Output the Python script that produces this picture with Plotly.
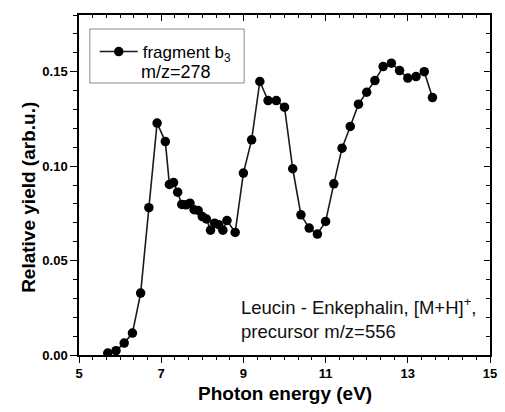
import plotly.graph_objects as go

energy = [5.7, 5.9, 6.1, 6.3, 6.5, 6.7, 6.9, 7.1, 7.2, 7.3, 7.4, 7.5, 7.6, 7.7, 7.8, 7.9,
          8.0, 8.1, 8.2, 8.3, 8.4, 8.5, 8.6, 8.8, 9.0, 9.2, 9.4, 9.6, 9.8, 10.0, 10.2,
          10.4, 10.6, 10.8, 11.0, 11.2, 11.4, 11.6, 11.8, 12.0, 12.2, 12.4, 12.6, 12.8,
          13.0, 13.2, 13.4, 13.6]
yield_b3 = [0.0010, 0.0023, 0.0063, 0.0116, 0.0328, 0.0780, 0.1228, 0.1130, 0.0903,
            0.0913, 0.0862, 0.0797, 0.0795, 0.0804, 0.0769, 0.0765, 0.0733, 0.0720,
            0.0661, 0.0698, 0.0690, 0.0661, 0.0712, 0.0649, 0.0963, 0.1139, 0.1448,
            0.1347, 0.1347, 0.1312, 0.0986, 0.0742, 0.0672, 0.0640, 0.0707, 0.0906,
            0.1095, 0.1210, 0.1328, 0.1391, 0.1453, 0.1527, 0.1545, 0.1506, 0.1466,
            0.1474, 0.1500, 0.1363]

x_ticks = [5, 7, 9, 11, 13, 15]
y_ticks = [0.00, 0.05, 0.10, 0.15]
y_tick_labels = ["0.00", "0.05", "0.10", "0.15"]

FONT = "Liberation Sans, Arial, sans-serif"

fig = go.Figure()
fig.add_trace(go.Scatter(
    x=energy, y=yield_b3, mode="lines+markers",
    name="fragment b<sub>3</sub>",
    line=dict(color="#1a1a1a", width=1.6),
    marker=dict(color="black", size=9.5, symbol="circle"),
))
# invisible trace to host the mirrored (inward-tick) axes
fig.add_trace(go.Scatter(
    x=energy, y=yield_b3, xaxis="x2", yaxis="y2", mode="markers",
    marker=dict(opacity=0), showlegend=False, hoverinfo="skip",
))

common = dict(showgrid=False, zeroline=False, showline=True, linecolor="black",
              linewidth=1.5, tickcolor="black", tickwidth=1.3)

fig.update_layout(
    width=505, height=412,
    margin=dict(l=79, r=8, t=15, b=57),
    paper_bgcolor="white", plot_bgcolor="white",
    font=dict(family=FONT, color="black"),
    xaxis=dict(range=[5, 15], tickvals=x_ticks, ticks="outside", ticklen=6,
               ticklabeloverflow="allow",
               tickfont=dict(size=13, weight="bold", family=FONT),
               minor=dict(dtick=1/3, tick0=5, ticks="outside", ticklen=3.5,
                          tickcolor="black", tickwidth=1.2),
               **common),
    yaxis=dict(range=[0, 0.18], tickvals=y_ticks, ticktext=y_tick_labels,
               ticks="outside", ticklen=7, ticklabeloverflow="allow",
               tickfont=dict(size=13, weight="bold", family=FONT),
               minor=dict(dtick=0.01, tick0=0, ticks="outside", ticklen=4,
                          tickcolor="black", tickwidth=1.2),
               **common),
    xaxis2=dict(range=[5, 15], overlaying="x", side="top", anchor="y",
                tickvals=x_ticks, ticks="inside", ticklen=6, showticklabels=False,
                minor=dict(dtick=1/3, tick0=5, ticks="inside", ticklen=3.5,
                           tickcolor="black", tickwidth=1.2),
                **common),
    yaxis2=dict(range=[0, 0.18], overlaying="y", side="right", anchor="x",
                tickvals=y_ticks, ticks="inside", ticklen=6, showticklabels=False,
                minor=dict(dtick=0.01, tick0=0, ticks="inside", ticklen=4,
                           tickcolor="black", tickwidth=1.2),
                **common),
    showlegend=True,
    legend=dict(x=(95 - 79) / 418, y=(355 - 34) / 340, xanchor="left", yanchor="top",
                bgcolor="rgba(0,0,0,0)", borderwidth=0,
                font=dict(size=17, family=FONT, color="black"),
                itemwidth=38),
)

# legend frame
fig.add_shape(type="rect", xref="paper", yref="paper",
              x0=(90 - 79) / 418, x1=(247 - 79) / 418,
              y0=(355 - 83) / 340, y1=(355 - 29) / 340,
              line=dict(color="#8a8a8a", width=1), fillcolor="rgba(0,0,0,0)")

fig.add_annotation(text="m/z=278", xref="paper", yref="paper",
                   x=(177.5 - 79) / 418, y=(355 - 72) / 340,
                   xanchor="center", yanchor="middle", showarrow=False,
                   font=dict(size=18, family=FONT, color="black"))

fig.add_annotation(text="Leucin - Enkephalin, [M+H]<sup>+</sup>,<br>precursor m/z=556",
                   xref="paper", yref="paper",
                   x=(242 - 79) / 418, y=(355 - 318) / 340,
                   xanchor="left", yanchor="middle", align="left", showarrow=False,
                   font=dict(size=18.5, family=FONT, color="#111111"))

fig.add_annotation(text="Photon energy (eV)", xref="paper", yref="paper",
                   x=0.5, y=(355 - 393) / 340, xanchor="center", yanchor="middle",
                   showarrow=False,
                   font=dict(size=19, family=FONT, weight="bold", color="black"))

fig.add_annotation(text="Relative yield (arb.u.)", xref="paper", yref="paper",
                   x=(27 - 79) / 418, y=(355 - 197) / 340, xanchor="center",
                   yanchor="middle", textangle=-90, showarrow=False,
                   font=dict(size=19, family=FONT, weight="bold", color="black"))

fig.write_html("out.html", config={"displayModeBar": False},
               post_script="document.body.style.margin='0';")
